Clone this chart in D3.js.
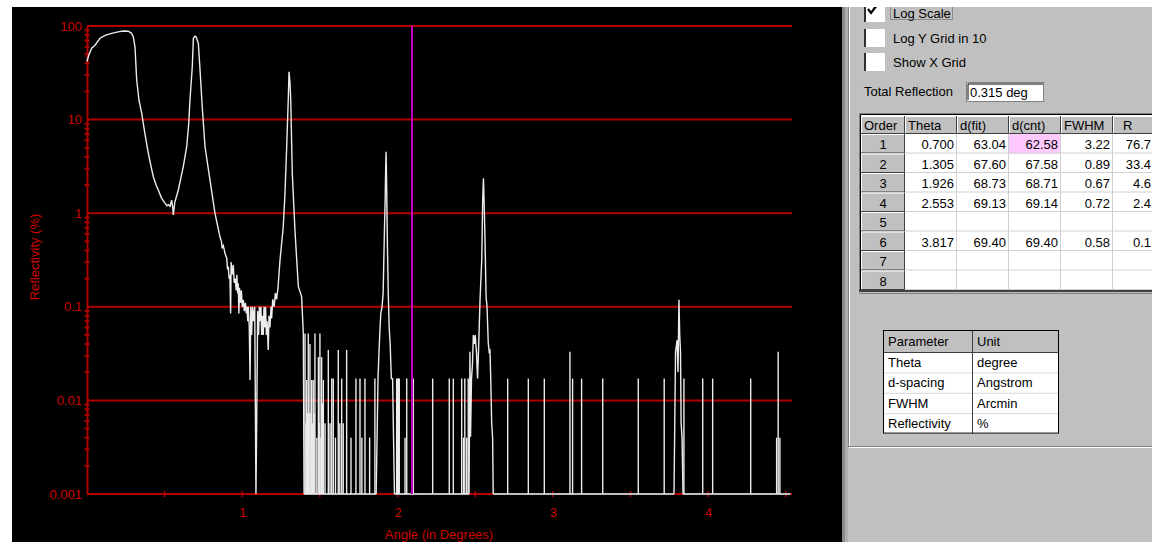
<!DOCTYPE html>
<html>
<head>
<meta charset="utf-8">
<script src="https://cdn.jsdelivr.net/npm/d3@7"></script>
<style>
  body { margin: 0; background: #fff; }
  svg { display: block; font-family: "Liberation Sans", Arial, sans-serif; }
</style>
</head>
<body>
<div id="chart"></div>
<script>
// reflectivity scan (angle in deg, reflectivity in %)
const curve = [
  [0.000, 41.6], [0.010, 48], [0.030, 57.8], [0.050, 62], [0.084, 74], [0.120, 80],
  [0.159, 83.5], [0.200, 86.5], [0.234, 88.4], [0.266, 88], [0.285, 84], [0.298, 76.8],
  [0.309, 60], [0.320, 26.5], [0.335, 16], [0.352, 11.7], [0.373, 7.1], [0.395, 4.37],
  [0.410, 3.3], [0.427, 2.45], [0.445, 2.0], [0.459, 1.77], [0.480, 1.45], [0.502, 1.28],
  [0.515, 1.2], [0.524, 1.23], [0.535, 1.18], [0.545, 1.38], [0.552, 1.15], [0.556, 0.96],
  [0.565, 1.3], [0.588, 1.77], [0.605, 2.4], [0.620, 3.14], [0.642, 5.13], [0.655, 9],
  [0.663, 16.2], [0.678, 36.7], [0.685, 74], [0.695, 78], [0.702, 76.8], [0.717, 65],
  [0.728, 33.9], [0.742, 13.7], [0.760, 5.13], [0.792, 2.26], [0.824, 1.0], [0.840, 0.75],
  [0.856, 0.56], [0.866, 0.5], [0.870, 0.42], [0.878, 0.45], [0.889, 0.37], [0.900, 0.33],
  [0.905, 0.25], [0.910, 0.27], [0.915, 0.2], [0.920, 0.22], [0.925, 0.085], [0.928, 0.3],
  [0.934, 0.22], [0.942, 0.28], [0.948, 0.18], [0.955, 0.2], [0.960, 0.15], [0.965, 0.22],
  [0.970, 0.14], [0.974, 0.178], [0.978, 0.085], [0.982, 0.16], [0.988, 0.11], [0.994, 0.15],
  [1.000, 0.1], [1.007, 0.118], [1.013, 0.09], [1.020, 0.11], [1.026, 0.085], [1.030, 0.1],
  [1.035, 0.07], [1.039, 0.1], [1.045, 0.06], [1.050, 0.0165], [1.055, 0.1], [1.060, 0.05],
  [1.066, 0.1], [1.071, 0.07], [1.080, 0.1], [1.088, 0.001], [1.093, 0.0062], [1.099, 0.09],
  [1.105, 0.05], [1.110, 0.1], [1.114, 0.07], [1.120, 0.1], [1.125, 0.05], [1.130, 0.08],
  [1.135, 0.05], [1.140, 0.1], [1.146, 0.06], [1.150, 0.1], [1.155, 0.05], [1.160, 0.07],
  [1.167, 0.0346], [1.172, 0.08], [1.178, 0.06], [1.185, 0.1], [1.189, 0.075], [1.196, 0.12],
  [1.205, 0.1], [1.213, 0.14], [1.221, 0.12], [1.230, 0.16], [1.243, 0.316], [1.264, 0.72],
  [1.275, 1.63], [1.286, 5.13], [1.296, 16.2], [1.301, 32.5], [1.307, 25], [1.312, 16.2],
  [1.322, 2.67], [1.339, 0.66], [1.361, 0.164], [1.375, 0.14], [1.382, 0.128], [1.393, 0.052],
  [1.398, 0.001]
];

const peak3 = [
  [1.862, 0.001], [1.868, 0.004], [1.874, 0.0171], [1.879, 0.029], [1.885, 0.05], [1.892, 0.085],
  [1.900, 0.1], [1.907, 0.139], [1.915, 0.61], [1.920, 1.38], [1.923, 2.77], [1.926, 4.54],
  [1.930, 1.77], [1.934, 0.52], [1.940, 0.139], [1.946, 0.06], [1.952, 0.041], [1.960, 0.0171],
  [1.968, 0.0171], [1.974, 0.004], [1.980, 0.001]
];

const peak4 = [
  [2.460, 0.001], [2.466, 0.0331], [2.470, 0.0041], [2.476, 0.017], [2.482, 0.024], [2.488, 0.05],
  [2.494, 0.04], [2.500, 0.05], [2.508, 0.033], [2.515, 0.0171], [2.522, 0.037], [2.531, 0.118],
  [2.542, 0.316], [2.548, 1.38], [2.553, 2.36], [2.558, 1.2], [2.563, 0.52], [2.570, 0.128],
  [2.576, 0.1], [2.584, 0.041], [2.590, 0.033], [2.595, 0.034], [2.600, 0.0171], [2.606, 0.0057],
  [2.612, 0.004], [2.616, 0.001]
];

const peak6 = [
  [3.780, 0.001], [3.784, 0.004], [3.790, 0.033], [3.800, 0.044], [3.806, 0.02], [3.812, 0.119],
  [3.817, 0.05], [3.822, 0.033], [3.826, 0.0057], [3.832, 0.004], [3.838, 0.001]
];

// single-count noise spikes rising from the floor
const spikes = [
  [1.404, 0.052], [1.410, 0.0057], [1.415, 0.0165], [1.420, 0.0073], [1.425, 0.052], [1.431, 0.0073],
  [1.436, 0.04], [1.442, 0.0073], [1.447, 0.0165], [1.452, 0.0057], [1.457, 0.0165], [1.463, 0.0073],
  [1.468, 0.052], [1.480, 0.004], [1.490, 0.029], [1.495, 0.0057], [1.500, 0.052], [1.506, 0.004],
  [1.511, 0.029], [1.517, 0.0093], [1.522, 0.0165], [1.533, 0.0057], [1.554, 0.0346], [1.565, 0.0057],
  [1.576, 0.0171], [1.586, 0.0171], [1.600, 0.004], [1.618, 0.0346], [1.628, 0.0057], [1.640, 0.0171],
  [1.650, 0.0057], [1.672, 0.0346], [1.700, 0.004], [1.732, 0.0171], [1.758, 0.0171], [1.770, 0.004],
  [1.790, 0.0171], [1.820, 0.004], [1.854, 0.0171],
  [1.994, 0.0171], [2.000, 0.0171], [2.006, 0.0171], [2.011, 0.0171], [2.048, 0.004], [2.059, 0.0171],
  [2.101, 0.0171], [2.226, 0.0171], [2.333, 0.0171], [2.359, 0.0171], [2.413, 0.0171], [2.425, 0.004],
  [2.433, 0.0171], [2.445, 0.004], [2.455, 0.0171],
  [2.709, 0.0171], [2.842, 0.0171], [2.945, 0.0171], [3.110, 0.033], [3.127, 0.0171], [3.185, 0.0171],
  [3.321, 0.0171], [3.550, 0.0171], [3.717, 0.0171], [3.844, 0.0171], [3.965, 0.0171], [4.029, 0.0171],
  [4.274, 0.0171], [4.441, 0.004], [4.451, 0.033], [4.462, 0.004]
];

const floorLevel = 0.001;
const floorSpans = [[1.398, 1.862], [1.980, 2.460], [2.616, 3.780], [3.838, 4.530]];

const cursorAngle = 2.093;
const xDomain = [0, 4.54];
const yDomain = [0.001, 100];
const yTicks = [0.001, 0.01, 0.1, 1, 10, 100];
const yTickLabels = ["0.001", "0.01", "0.1", "1", "10", "100"];
const xTicks = [1, 2, 3, 4];
const xHalfTicks = [0.5, 1, 1.5, 2, 2.5, 3, 3.5, 4, 4.5];

// peak table (R column is cut by the window edge)
const orders = ["1", "2", "3", "4", "5", "6", "7", "8"];
const theta = ["0.700", "1.305", "1.926", "2.553", "", "3.817", "", ""];
const dFit = ["63.04", "67.60", "68.73", "69.13", "", "69.40", "", ""];
const dCnt = ["62.58", "67.58", "68.71", "69.14", "", "69.40", "", ""];
const fwhm = ["3.22", "0.89", "0.67", "0.72", "", "0.58", "", ""];
const rPct = ["76.7", "33.4", "4.6", "2.4", "", "0.1", "", ""];
const tableHeads = ["Order", "Theta", "d(fit)", "d(cnt)", "FWHM", "R"];

const params = ["Theta", "d-spacing", "FWHM", "Reflectivity"];
const units = ["degree", "Angstrom", "Arcmin", "%"];

const W = 1152, H = 542;
const RED = "#cc0000", GRID = "#b00000";

const svg = d3.select("#chart").append("svg").attr("width", W).attr("height", H);

// plot window
svg.append("rect").attr("x", 12).attr("y", 7).attr("width", 832).attr("height", H - 7).attr("fill", "#000");

const x = d3.scaleLinear().domain(xDomain).range([87, 792]);
const y = d3.scaleLog().domain(yDomain).range([494, 26]);

// horizontal decade grid
svg.append("g").selectAll("line").data(yTicks).join("line")
  .attr("x1", x(xDomain[0])).attr("x2", x(xDomain[1]))
  .attr("y1", d => y(d)).attr("y2", d => y(d))
  .attr("stroke", GRID).attr("stroke-width", 2);

// y axis with minor ticks
const yAxis = svg.append("g").attr("transform", `translate(${x(0)},0)`)
  .call(d3.axisLeft(y).tickValues(yTicks).tickFormat((d, i) => yTickLabels[i]).tickSize(0).tickPadding(5));
yAxis.select(".domain").attr("stroke", GRID).attr("stroke-width", 2);
yAxis.selectAll("text").attr("fill", RED).attr("font-size", 13)
  .attr("font-family", "Liberation Sans, Arial, sans-serif");

const minor = [];
for (let e = -3; e < 2; e++) for (let m = 2; m <= 9; m++) minor.push(m * Math.pow(10, e));
svg.append("g").selectAll("line").data(minor).join("line")
  .attr("x1", x(0) - 2.5).attr("x2", x(0) + 2.5)
  .attr("y1", d => y(d)).attr("y2", d => y(d))
  .attr("stroke", GRID).attr("stroke-width", 2);

// x axis ticks
svg.append("g").selectAll("line").data(xHalfTicks).join("line")
  .attr("x1", d => x(d)).attr("x2", d => x(d))
  .attr("y1", y(floorLevel) - 3).attr("y2", y(floorLevel) + 3)
  .attr("stroke", GRID).attr("stroke-width", 1.5);

const xAxis = svg.append("g").attr("transform", `translate(0,${y(floorLevel)})`)
  .call(d3.axisBottom(x).tickValues(xTicks).tickFormat(d3.format("d")).tickSize(0).tickPadding(14));
xAxis.select(".domain").remove();
xAxis.selectAll("text").attr("fill", RED).attr("font-size", 13)
  .attr("font-family", "Liberation Sans, Arial, sans-serif");

svg.append("text").attr("x", 439).attr("y", 539).attr("text-anchor", "middle")
  .attr("fill", RED).attr("font-size", 13).text("Angle (in Degrees)");
svg.append("text").attr("transform", "translate(39,257) rotate(-90)").attr("text-anchor", "middle")
  .attr("fill", RED).attr("font-size", 13).text("Reflectivity (%)");

// data
const line = d3.line().x(d => x(d[0])).y(d => y(d[1]));
const DATA = "#ececec";

svg.append("g").selectAll("line").data(floorSpans).join("line")
  .attr("x1", d => x(d[0])).attr("x2", d => x(d[1]))
  .attr("y1", y(floorLevel)).attr("y2", y(floorLevel))
  .attr("stroke", "#bdbdbd").attr("stroke-width", 2);

svg.append("g").selectAll("line").data(spikes).join("line")
  .attr("x1", d => x(d[0])).attr("x2", d => x(d[0]))
  .attr("y1", y(floorLevel)).attr("y2", d => y(d[1]))
  .attr("stroke", DATA).attr("stroke-width", 1.4);

svg.append("g").selectAll("path").data([curve, peak3, peak4, peak6]).join("path")
  .attr("d", line).attr("fill", "none")
  .attr("stroke", DATA).attr("stroke-width", 1.4).attr("stroke-linejoin", "miter");

// cursor
svg.append("line").attr("x1", x(cursorAngle)).attr("x2", x(cursorAngle))
  .attr("y1", y(yDomain[1])).attr("y2", y(yDomain[0]))
  .attr("stroke", "#c800c8").attr("stroke-width", 2);

// ---- right hand control panel ----
const panel = svg.append("g");
panel.append("rect").attr("x", 844).attr("y", 7).attr("width", W - 844).attr("height", H - 7).attr("fill", "#c0c0c0");
panel.append("rect").attr("x", 842).attr("y", 7).attr("width", 3).attr("height", H - 7).attr("fill", "#8a8a8a");
panel.append("rect").attr("x", 845).attr("y", 7).attr("width", 3).attr("height", H - 7).attr("fill", "#b0b0b0");
// group box edges
panel.append("line").attr("x1", 848.5).attr("x2", 848.5).attr("y1", 7).attr("y2", 447).attr("stroke", "#808080");
panel.append("line").attr("x1", 849.5).attr("x2", 849.5).attr("y1", 7).attr("y2", 447).attr("stroke", "#fff");
panel.append("line").attr("x1", 848).attr("x2", W).attr("y1", 446.5).attr("y2", 446.5).attr("stroke", "#808080");
panel.append("line").attr("x1", 849).attr("x2", W).attr("y1", 447.5).attr("y2", 447.5).attr("stroke", "#fff");

const checks = [
  { label: "Log Scale", on: true, top: 4 },
  { label: "Log Y Grid in 10", on: false, top: 29 },
  { label: "Show X Grid", on: false, top: 53 }
];
const cb = panel.selectAll("g.cb").data(checks).join("g").attr("class", "cb");
cb.append("rect").attr("x", 865).attr("y", d => d.top).attr("width", 20).attr("height", 18).attr("fill", "#fff");
cb.append("rect").attr("x", 864).attr("y", d => d.top).attr("width", 2).attr("height", 18).attr("fill", "#303030");
cb.append("text").attr("x", 893).attr("y", d => d.top + 13.5).attr("font-size", 13).attr("fill", "#000").text(d => d.label);
cb.filter(d => d.on).append("path")
  .attr("d", d => `M868,${d.top + 5} L871,${d.top + 9} L877,${d.top + 1}`)
  .attr("fill", "none").attr("stroke", "#000").attr("stroke-width", 2.2);
cb.filter(d => d.on).append("rect").attr("x", 890.5).attr("y", d => d.top + 1.5).attr("width", 62).attr("height", 14)
  .attr("fill", "none").attr("stroke", "#555").attr("stroke-dasharray", "1,1");

// top white strip over everything
svg.append("rect").attr("x", 0).attr("y", 0).attr("width", W).attr("height", 7).attr("fill", "#fff");

panel.append("text").attr("x", 864).attr("y", 96).attr("font-size", 13).text("Total Reflection");
panel.append("rect").attr("x", 966.5).attr("y", 82.5).attr("width", 77).attr("height", 19)
  .attr("fill", "#fff").attr("stroke", "#808080");
panel.append("path").attr("d", "M968,100 V84 H1043").attr("fill", "none").attr("stroke", "#000");
panel.append("text").attr("x", 970).attr("y", 97).attr("font-size", 13).text("0.315 deg");

// peak table
const colX = [861, 905, 957, 1009, 1061, 1113, 1165];
const headTop = 116, headH = 18, rowH = 19.5;
const t1 = panel.append("g");
t1.append("rect").attr("x", colX[0]).attr("y", 114).attr("width", W - colX[0]).attr("height", 178).attr("fill", "#fff");
// header cells
tableHeads.forEach((h, i) => {
  const cx = colX[i], w = colX[i + 1] - colX[i];
  t1.append("rect").attr("x", cx).attr("y", headTop).attr("width", w).attr("height", headH).attr("fill", "#c0c0c0");
  t1.append("path").attr("d", `M${cx + 0.5},${headTop + headH} V${headTop + 0.5} H${cx + w}`).attr("fill", "none").attr("stroke", "#fff");
  t1.append("path").attr("d", `M${cx},${headTop + headH - 0.5} H${cx + w - 0.5} V${headTop}`).attr("fill", "none").attr("stroke", "#404040");
  t1.append("text").attr("x", cx + (i === 5 ? 10 : 3)).attr("y", headTop + 14).attr("font-size", 13).text(h);
});
// rows
const cols = [theta, dFit, dCnt, fwhm];
orders.forEach((o, r) => {
  const ry = headTop + headH + r * rowH;
  t1.append("rect").attr("x", colX[0]).attr("y", ry).attr("width", colX[1] - colX[0]).attr("height", rowH).attr("fill", "#c0c0c0");
  t1.append("path").attr("d", `M${colX[0] + 0.5},${ry + rowH} V${ry + 0.5} H${colX[1]}`).attr("fill", "none").attr("stroke", "#fff");
  t1.append("path").attr("d", `M${colX[0]},${ry + rowH - 0.5} H${colX[1] - 0.5} V${ry}`).attr("fill", "none").attr("stroke", "#404040");
  t1.append("text").attr("x", (colX[0] + colX[1]) / 2).attr("y", ry + 15).attr("text-anchor", "middle").attr("font-size", 13).text(o);
  if (r === 0) {
    t1.append("rect").attr("x", colX[3]).attr("y", ry).attr("width", colX[4] - colX[3]).attr("height", rowH).attr("fill", "#ffc8ff");
  }
  cols.forEach((c, j) => {
    const right = colX[j + 2];
    t1.append("text").attr("x", right - 3).attr("y", ry + 15).attr("text-anchor", "end").attr("font-size", 13).text(c[r]);
  });
  t1.append("text").attr("x", 1151).attr("y", ry + 15).attr("text-anchor", "end").attr("font-size", 13).text(rPct[r]);
  t1.append("line").attr("x1", colX[1]).attr("x2", W).attr("y1", ry + rowH - 0.5).attr("y2", ry + rowH - 0.5).attr("stroke", "#d0d0d0");
});
colX.slice(2).forEach(cx => {
  t1.append("line").attr("x1", cx - 0.5).attr("x2", cx - 0.5).attr("y1", headTop + headH).attr("y2", headTop + headH + 8 * rowH)
    .attr("stroke", "#d0d0d0");
});
// sunken outer frame
t1.append("path").attr("d", `M${colX[0] - 1.5},292 V113.5 H${W}`).attr("fill", "none").attr("stroke", "#808080");
t1.append("path").attr("d", `M${colX[0] - 0.5},291 V114.5 H${W}`).attr("fill", "none").attr("stroke", "#000");
t1.append("rect").attr("x", colX[0] - 2).attr("y", 290).attr("width", W - colX[0] + 2).attr("height", 2).attr("fill", "#404040");
t1.append("rect").attr("x", colX[0] - 2).attr("y", 293).attr("width", W - colX[0] + 2).attr("height", 1).attr("fill", "#808080");

// units table
const ux = [883, 972, 1059];
const uTop = 330, uHeadH = 22, uRow = 20.4;
const t2 = panel.append("g");
t2.append("rect").attr("x", ux[0]).attr("y", uTop).attr("width", ux[2] - ux[0]).attr("height", uHeadH).attr("fill", "#c0c0c0");
t2.append("rect").attr("x", ux[0]).attr("y", uTop + uHeadH).attr("width", ux[2] - ux[0]).attr("height", 4 * uRow).attr("fill", "#fff");
t2.append("text").attr("x", ux[0] + 5).attr("y", uTop + 16).attr("font-size", 13).text("Parameter");
t2.append("text").attr("x", ux[1] + 5).attr("y", uTop + 16).attr("font-size", 13).text("Unit");
params.forEach((p, i) => {
  const ry = uTop + uHeadH + i * uRow;
  t2.append("text").attr("x", ux[0] + 5).attr("y", ry + 15).attr("font-size", 13).text(p);
  t2.append("text").attr("x", ux[1] + 5).attr("y", ry + 15).attr("font-size", 13).text(units[i]);
  if (i > 0) t2.append("line").attr("x1", ux[0]).attr("x2", ux[2]).attr("y1", ry + 0.5).attr("y2", ry + 0.5).attr("stroke", "#d8d8d8");
});
t2.append("line").attr("x1", ux[0]).attr("x2", ux[2]).attr("y1", uTop + uHeadH + 0.5).attr("y2", uTop + uHeadH + 0.5).attr("stroke", "#404040");
t2.append("line").attr("x1", ux[1] + 0.5).attr("x2", ux[1] + 0.5).attr("y1", uTop).attr("y2", uTop + uHeadH + 4 * uRow).attr("stroke", "#404040");
t2.append("rect").attr("x", ux[0] + 0.5).attr("y", uTop + 0.5).attr("width", ux[2] - ux[0] - 1).attr("height", uHeadH + 4 * uRow - 1)
  .attr("fill", "none").attr("stroke", "#000");
</script>
</body>
</html>
